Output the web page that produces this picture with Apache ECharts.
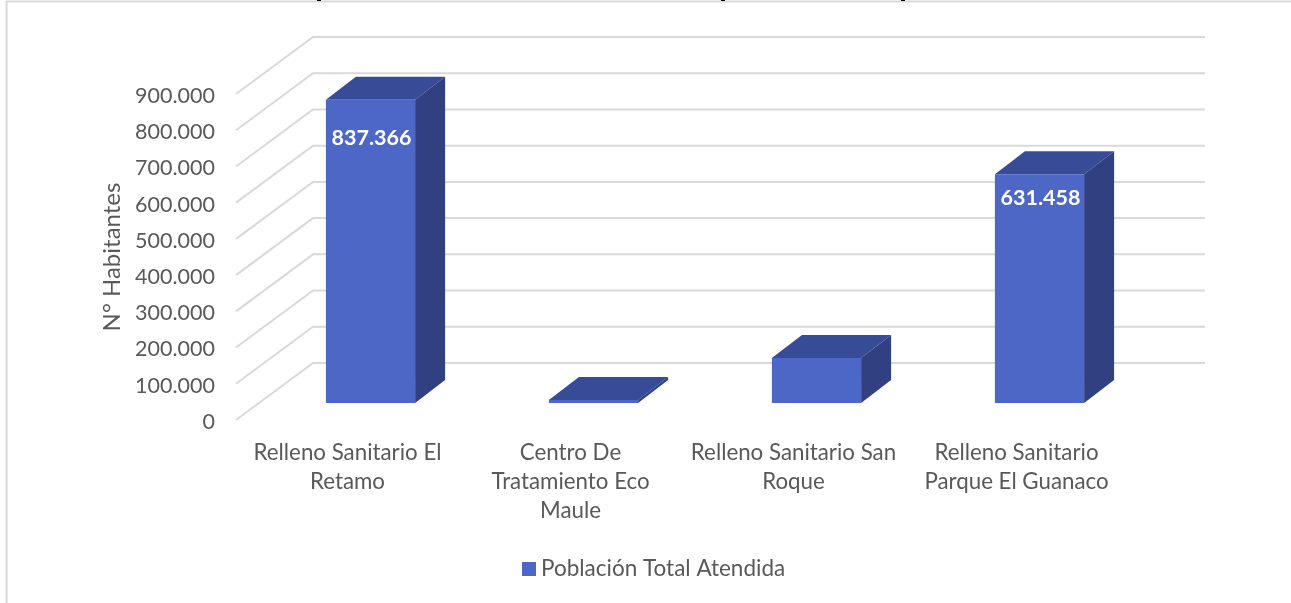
<!DOCTYPE html>
<html>
<head>
<meta charset="utf-8">
<title>Población Total Atendida</title>
<script src="https://cdn.jsdelivr.net/npm/echarts@6/dist/echarts.min.js"></script>
<style>
  html, body { margin: 0; padding: 0; background: #fff; }
  #chart { width: 1291px; height: 603px; }
</style>
</head>
<body>
<div id="chart"></div>
<script>
// chart data
const categories = [
  "Relleno Sanitario El\nRetamo",
  "Centro De\nTratamiento Eco\nMaule",
  "Relleno Sanitario San\nRoque",
  "Relleno Sanitario\nParque El Guanaco",
];
const poblacion = [837366, 8000, 124000, 631458];
const yTicks = [0, 100000, 200000, 300000, 400000, 500000, 600000, 700000, 800000, 900000];
const seriesName = "Población Total Atendida";
const labelled = [true, false, false, true];

const FONT = "Lato, 'Noto Sans', sans-serif";
const TXT = "#595959", GRID = "#d9d9d9";
const COL = { front: "#4d67c7", top: "#384b96", side: "#314080" };

// fake 3D: the grid rect is the front plane, walls and boxes are pushed back from it
const WALL = { dx: 77, dy: 57 };
const BOX = { x: 23, y: 17, dx: 30, dy: 23 };
const labelDrop = [38, 0, 0, 24];

const fmt = (v) => String(v).replace(/\B(?=(\d{3})+$)/g, ".");

function renderWall(params, api) {
  const sys = params.coordSys;
  const y = api.coord([0, api.value(1)])[1];
  const style = { stroke: GRID, lineWidth: 2, fill: "none" };
  return {
    type: "polyline",
    shape: { points: [[sys.x, y], [sys.x + WALL.dx, y - WALL.dy], [sys.x + sys.width + WALL.dx, y - WALL.dy]] },
    style,
  };
}

function renderBox(params, api) {
  const i = api.value(0);
  const top = api.coord([i, api.value(1)]);
  const base = api.coord([i, 0]);
  const w = api.size([1, 0])[0] * 0.4;
  const x0 = top[0] + BOX.x - w / 2, x1 = x0 + w;
  const y0 = top[1] - BOX.y, yb = base[1] - BOX.y;
  const { dx, dy } = BOX;
  const kids = [
    { type: "polygon", shape: { points: [[x0, y0], [x1, y0], [x1 + dx, y0 - dy], [x0 + dx, y0 - dy]] }, style: { fill: COL.top } },
    { type: "polygon", shape: { points: [[x1, y0], [x1 + dx, y0 - dy], [x1 + dx, yb - dy], [x1, yb]] }, style: { fill: COL.side } },
    { type: "rect", shape: { x: x0, y: y0, width: w, height: yb - y0 }, style: { fill: COL.front } },
  ];
  if (labelled[i]) {
    kids.push({
      type: "text", z2: 10,
      style: {
        text: fmt(api.value(1)), x: top[0] + BOX.x + 1, y: y0 + labelDrop[i],
        fill: "#fff", font: "bold 21.5px " + FONT, align: "center", verticalAlign: "middle",
      },
    });
  }
  return { type: "group", children: kids };
}

const chart = echarts.init(document.getElementById("chart"), null, { renderer: "canvas" });
chart.setOption({
  animation: false,
  backgroundColor: "#fff",
  textStyle: { fontFamily: FONT },
  grid: { left: 236, top: 94, width: 892, height: 326 },
  legend: {
    data: [seriesName], left: 522, top: 557.5, icon: "rect", itemWidth: 14, itemHeight: 14, itemGap: 6,
    textStyle: { color: TXT, fontSize: 22.5, fontFamily: FONT }, padding: 0,
  },
  xAxis: {
    type: "category", data: categories,
    axisLine: { show: false }, axisTick: { show: false }, splitLine: { show: false },
    axisLabel: { color: TXT, fontSize: 22.3, fontFamily: FONT, lineHeight: 29, margin: 18, interval: 0 },
  },
  yAxis: {
    type: "value", min: 0, max: 900000, interval: 100000,
    axisLine: { show: false }, axisTick: { show: false }, splitLine: { show: false },
    axisLabel: { color: TXT, fontSize: 21.5, fontFamily: FONT, margin: 21, verticalAlign: "top", lineHeight: 4, formatter: fmt },
    name: "N° Habitantes", nameLocation: "middle", nameGap: 111,
    nameTextStyle: { color: TXT, fontSize: 24, fontFamily: FONT },
  },
  graphic: [
    // chart frame: the picture is cut off on the right and at the bottom
    { type: "polyline", silent: true, shape: { points: [[6.5, 603], [6.5, 1.5], [1291, 1.5]] }, style: { stroke: "#d9d9d9", lineWidth: 2, fill: "none" } },
    // bits of a title cropped off above the frame
    { type: "rect", silent: true, shape: { x: 317, y: 0, width: 4, height: 1 }, style: { fill: "#000" } },
    { type: "rect", silent: true, shape: { x: 721, y: 0, width: 4, height: 1 }, style: { fill: "#000" } },
    { type: "rect", silent: true, shape: { x: 901, y: 0, width: 4, height: 1 }, style: { fill: "#000" } },
  ],
  series: [
    { name: "walls", type: "custom", silent: true, z: 1, clip: false, renderItem: renderWall,
      encode: { x: 0, y: 1 }, data: yTicks.map((v) => [0, v]) },
    { name: seriesName, type: "custom", z: 2, clip: false, renderItem: renderBox,
      itemStyle: { color: COL.front }, encode: { x: 0, y: 1 }, data: poblacion.map((v, i) => [i, v]) },
  ],
});
</script>
</body>
</html>
